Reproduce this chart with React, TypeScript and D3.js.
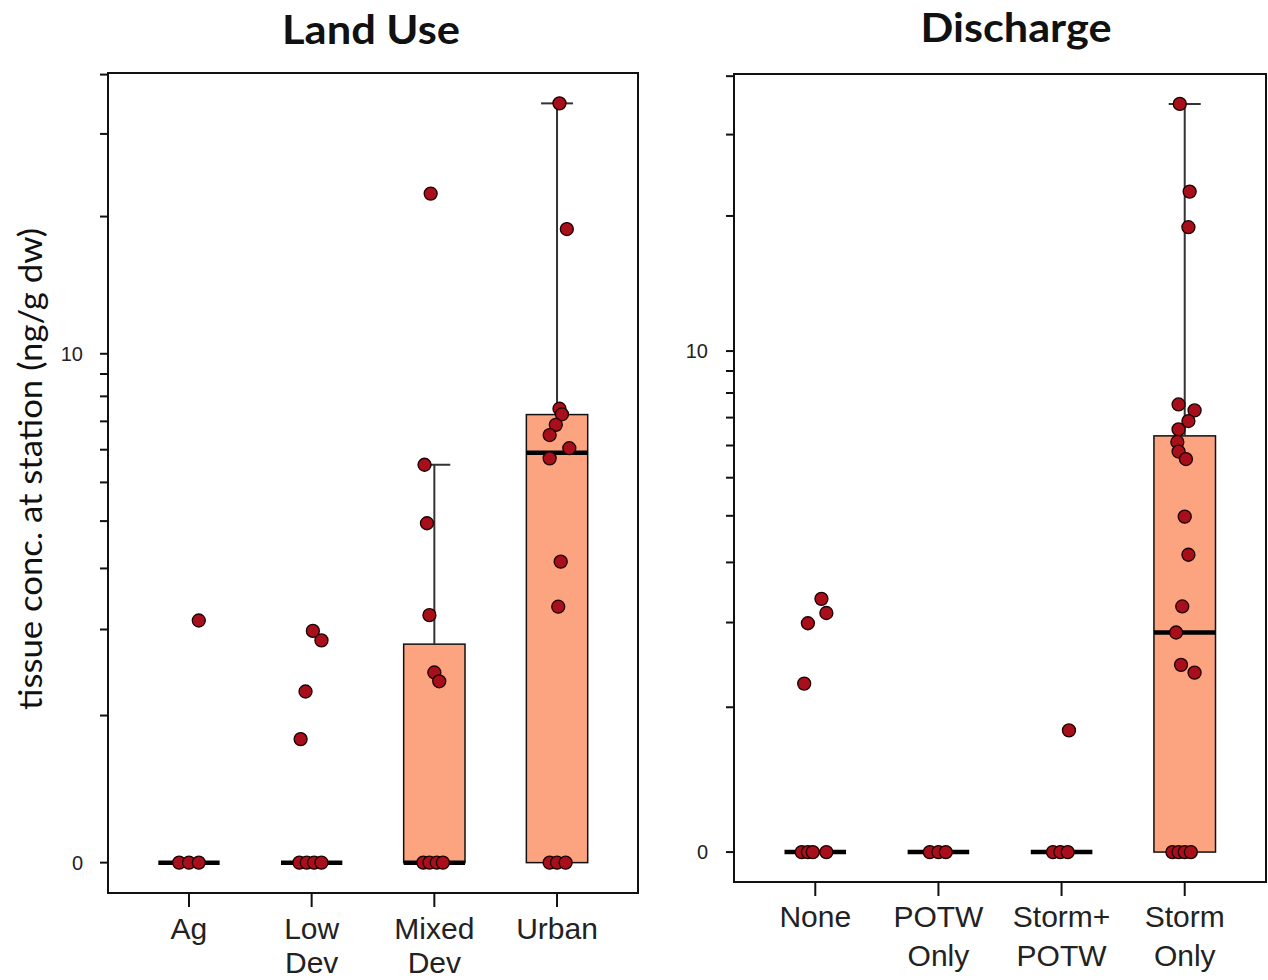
import * as d3 from "d3";
import { FC, useEffect, useRef } from "react";

// ---- data (ng/g dw) ----
const landCats = ["Ag", "Low Dev", "Mixed Dev", "Urban"];
const landLabels = [["Ag"], ["Low", "Dev"], ["Mixed", "Dev"], ["Urban"]];

const agValues = [0, 0, 0, 2.13];
const agJitter = [-0.08, 0, 0.08, 0.08];
const lowDevValues = [0, 0, 0, 0, 1.98, 1.85, 1.24, 0.79];
const lowDevJitter = [-0.1, -0.04, 0.02, 0.08, 0.01, 0.08, -0.05, -0.09];
const mixedDevValues = [0, 0, 0, 0, 22.4, 5.52, 3.95, 2.21, 1.45, 1.35];
const mixedDevJitter = [-0.09, -0.04, 0.02, 0.07, -0.03, -0.08, -0.06, -0.04, 0, 0.04];
const urbanValues = [0, 0, 0, 34.8, 18.8, 7.49, 7.27, 6.87, 6.5, 6.05, 5.72, 3.13, 2.34];
const urbanJitter = [-0.06, 0, 0.07, 0.02, 0.08, 0.02, 0.04, -0.01, -0.06, 0.1, -0.06, 0.03, 0.01];

const landQ1 = [0, 0, 0, 0];
const landMedian = [0, 0, 0, 5.9];
const landQ3 = [0, 0, 1.8, 7.26];
const landWhiskerLo = [0, 0, 0, 0];
const landWhiskerHi = [0, 0, 5.52, 34.8];

const dischCats = ["None", "POTW Only", "Storm+ POTW", "Storm Only"];
const dischLabels = [["None"], ["POTW", "Only"], ["Storm+", "POTW"], ["Storm", "Only"]];

const noneValues = [0, 0, 0, 0, 2.36, 2.14, 1.99, 1.24];
const noneJitter = [-0.11, -0.06, -0.02, 0.09, 0.05, 0.09, -0.06, -0.09];
const potwValues = [0, 0, 0];
const potwJitter = [-0.07, 0, 0.06];
const stormPotwValues = [0, 0, 0, 0.79];
const stormPotwJitter = [-0.07, -0.01, 0.05, 0.06];
const stormOnlyValues = [
  0, 0, 0, 0, 34.9, 22.6, 18.9, 7.52, 7.28, 6.87, 6.56, 6.12, 5.8, 5.56, 3.98,
  3.15, 2.24, 1.86, 1.45, 1.36,
];
const stormOnlyJitter = [
  -0.1, -0.05, 0, 0.05, -0.04, 0.04, 0.03, -0.05, 0.08, 0.03, -0.05, -0.06,
  -0.05, 0.01, 0, 0.03, -0.02, -0.07, -0.03, 0.08,
];

const dischQ1 = [0, 0, 0, 0];
const dischMedian = [0, 0, 0, 1.86];
const dischQ3 = [0, 0, 0, 6.33];
const dischWhiskerLo = [0, 0, 0, 0];
const dischWhiskerHi = [0, 0, 0, 34.9];

const yTicks = [0, 1, 2, 3, 4, 5, 6, 7, 8, 9, 10, 20, 30, 40];
const yTickLabels = [0, 10];

const BOX_FILL = "#fba47f";
const POINT_FILL = "#a80f1a";

interface PanelSpec {
  title: string;
  titleX: number;
  titleY: number;
  titleW: number;
  frame: { x0: number; x1: number; y0: number; y1: number };
  labelGap: number;
  lineGap: number;
  tickLabelGap: number;
  cats: string[];
  labels: string[][];
  values: number[][];
  jitter: number[][];
  q1: number[];
  median: number[];
  q3: number[];
  lo: number[];
  hi: number[];
}

const panels: PanelSpec[] = [
  {
    title: "Land Use",
    titleX: 371,
    titleY: 44,
    titleW: 178,
    frame: { x0: 108, x1: 638, y0: 73, y1: 893 },
    labelGap: 46,
    lineGap: 34,
    tickLabelGap: 25,
    cats: landCats,
    labels: landLabels,
    values: [agValues, lowDevValues, mixedDevValues, urbanValues],
    jitter: [agJitter, lowDevJitter, mixedDevJitter, urbanJitter],
    q1: landQ1,
    median: landMedian,
    q3: landQ3,
    lo: landWhiskerLo,
    hi: landWhiskerHi,
  },
  {
    title: "Discharge",
    titleX: 1016,
    titleY: 42,
    titleW: 191,
    frame: { x0: 734, x1: 1266, y0: 74, y1: 882 },
    labelGap: 45,
    lineGap: 39,
    tickLabelGap: 26,
    cats: dischCats,
    labels: dischLabels,
    values: [noneValues, potwValues, stormPotwValues, stormOnlyValues],
    jitter: [noneJitter, potwJitter, stormPotwJitter, stormOnlyJitter],
    q1: dischQ1,
    median: dischMedian,
    q3: dischQ3,
    lo: dischWhiskerLo,
    hi: dischWhiskerHi,
  },
];

const drawPanel = (
  svg: d3.Selection<SVGSVGElement | null, unknown, null, undefined>,
  p: PanelSpec
) => {
  const { x0, x1, y0, y1 } = p.frame;
  const g = svg.append("g");

  // log(x+1) axis, R-style 4% expansion
  const maxV = d3.max(p.values.flat()) ?? 1;
  const L = Math.log1p(maxV);
  const yScale = d3
    .scaleSymlog()
    .constant(1)
    .domain([-Math.expm1(0.04 * L), Math.expm1(1.04 * L)])
    .range([y1, y0]);

  const xScale = d3
    .scaleBand()
    .domain(p.cats)
    .range([x0, x1])
    .paddingInner(0)
    .paddingOuter(0.16);
  const step = xScale.step();
  const cx = (c: string) => (xScale(c) ?? 0) + xScale.bandwidth() / 2;
  const boxW = step * 0.5;
  const capW = step * 0.13;

  // frame
  g.append("rect")
    .attr("x", x0)
    .attr("y", y0)
    .attr("width", x1 - x0)
    .attr("height", y1 - y0)
    .attr("fill", "none")
    .attr("stroke", "#111")
    .attr("stroke-width", 2);

  // y ticks
  g.selectAll(".ytick")
    .data(yTicks)
    .enter()
    .append("line")
    .attr("x1", x0 - 8)
    .attr("x2", x0)
    .attr("y1", (d) => yScale(d))
    .attr("y2", (d) => yScale(d))
    .attr("stroke", "#111")
    .attr("stroke-width", 2);
  g.selectAll(".ylab")
    .data(yTickLabels)
    .enter()
    .append("text")
    .attr("x", x0 - p.tickLabelGap)
    .attr("y", (d) => yScale(d))
    .attr("dy", "0.35em")
    .attr("text-anchor", "end")
    .attr("font-family", "Liberation Sans, Arial, sans-serif")
    .attr("font-size", 20)
    .attr("fill", "#222")
    .text((d) => d);

  // x ticks + labels
  p.cats.forEach((c, i) => {
    g.append("line")
      .attr("x1", cx(c))
      .attr("x2", cx(c))
      .attr("y1", y1)
      .attr("y2", y1 + 14)
      .attr("stroke", "#111")
      .attr("stroke-width", 2);
    const t = g
      .append("text")
      .attr("text-anchor", "middle")
      .attr("font-family", "Liberation Sans, Arial, sans-serif")
      .attr("font-size", 30)
      .attr("fill", "#222");
    p.labels[i].forEach((line, k) => {
      t.append("tspan")
        .attr("x", cx(c))
        .attr("y", y1 + p.labelGap + k * p.lineGap)
        .text(line);
    });
  });

  // boxes
  p.cats.forEach((c, i) => {
    const x = cx(c);
    g.append("rect")
      .attr("x", x - boxW / 2)
      .attr("y", yScale(p.q3[i]))
      .attr("width", boxW)
      .attr("height", yScale(p.q1[i]) - yScale(p.q3[i]))
      .attr("fill", BOX_FILL)
      .attr("stroke", "#111")
      .attr("stroke-width", 1.5);
    // whiskers
    [
      [p.q3[i], p.hi[i]],
      [p.q1[i], p.lo[i]],
    ].forEach(([a, b]) => {
      if (a === b) return;
      g.append("line")
        .attr("x1", x)
        .attr("x2", x)
        .attr("y1", yScale(a))
        .attr("y2", yScale(b))
        .attr("stroke", "#333")
        .attr("stroke-width", 2);
      g.append("line")
        .attr("x1", x - capW)
        .attr("x2", x + capW)
        .attr("y1", yScale(b))
        .attr("y2", yScale(b))
        .attr("stroke", "#333")
        .attr("stroke-width", 2);
    });
    // median
    g.append("line")
      .attr("x1", x - boxW / 2)
      .attr("x2", x + boxW / 2)
      .attr("y1", yScale(p.median[i]))
      .attr("y2", yScale(p.median[i]))
      .attr("stroke", "#000")
      .attr("stroke-width", 4.5);
  });

  // points
  p.cats.forEach((c, i) => {
    g.selectAll(`.pt${i}`)
      .data(p.values[i].map((v, k) => ({ v, j: p.jitter[i][k] })))
      .enter()
      .append("circle")
      .attr("cx", (d) => cx(c) + d.j * step)
      .attr("cy", (d) => yScale(d.v))
      .attr("r", 6.5)
      .attr("fill", POINT_FILL)
      .attr("stroke", "#1a0000")
      .attr("stroke-width", 1.3);
  });

  // title
  svg
    .append("text")
    .attr("x", p.titleX)
    .attr("y", p.titleY)
    .attr("text-anchor", "middle")
    .attr("font-family", "Lato, Open Sans, sans-serif")
    .attr("font-weight", "bold")
    .attr("font-size", 41)
    .attr("textLength", p.titleW)
    .attr("lengthAdjust", "spacingAndGlyphs")
    .attr("fill", "#111")
    .text(p.title);
};

const Chart: FC = () => {
  const svgRef = useRef<SVGSVGElement>(null);

  useEffect(() => {
    const svg = d3.select(svgRef.current);
    svg.selectAll("*").remove();
    svg.attr("width", 1268).attr("height", 980);

    svg
      .append("rect")
      .attr("width", 1268)
      .attr("height", 980)
      .attr("fill", "#fff");

    panels.forEach((p) => drawPanel(svg, p));

    // shared y label
    svg
      .append("text")
      .attr("transform", "translate(42, 469) rotate(-90)")
      .attr("text-anchor", "middle")
      .attr("font-family", "Lato, Open Sans, sans-serif")
      .attr("font-size", 33)
      .attr("textLength", 482)
      .attr("lengthAdjust", "spacingAndGlyphs")
      .attr("fill", "#111")
      .text("tissue conc. at station (ng/g dw)");
  }, []);

  return (
    <svg
      ref={svgRef}
      style={{ position: "absolute", left: 0, top: 0, display: "block" }}
    />
  );
};

export default function App() {
  return <Chart />;
}
